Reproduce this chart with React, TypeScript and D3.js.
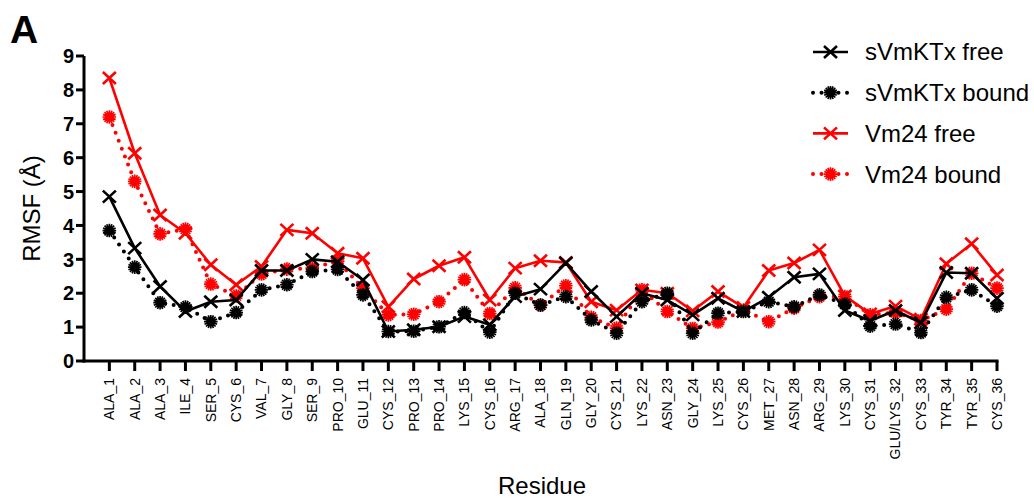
import * as d3 from "d3";

const residues = [
  "ALA_1", "ALA_2", "ALA_3", "ILE_4", "SER_5", "CYS_6", "VAL_7", "GLY_8", "SER_9",
  "PRO_10", "GLU_11", "CYS_12", "PRO_13", "PRO_14", "LYS_15", "CYS_16", "ARG_17", "ALA_18",
  "GLN_19", "GLY_20", "CYS_21", "LYS_22", "ASN_23", "GLY_24", "LYS_25", "CYS_26", "MET_27",
  "ASN_28", "ARG_29", "LYS_30", "CYS_31", "GLU/LYS_32", "CYS_33", "TYR_34", "TYR_35", "CYS_36",
];

const sVmKTxFree = [
  4.85, 3.33, 2.2, 1.46, 1.75, 1.8, 2.67, 2.67, 3.0, 2.93, 2.39, 0.87, 0.92, 1.01, 1.31, 1.07,
  1.9, 2.12, 2.89, 2.05, 1.31, 2.0, 1.8, 1.36, 1.85, 1.46, 1.88, 2.47, 2.57, 1.49, 1.19, 1.49,
  1.13, 2.61, 2.59, 1.85,
];
const sVmKTxBound = [
  3.85, 2.77, 1.72, 1.59, 1.16, 1.43, 2.1, 2.25, 2.64, 2.7, 1.95, 0.87, 0.88, 1.01, 1.43, 0.85,
  2.0, 1.65, 1.9, 1.21, 0.82, 1.75, 2.0, 0.82, 1.41, 1.46, 1.75, 1.6, 1.95, 1.68, 1.03, 1.09,
  0.84, 1.88, 2.1, 1.62,
];
const vm24Free = [
  8.35, 6.13, 4.31, 3.77, 2.84, 2.25, 2.79, 3.87, 3.77, 3.18, 3.03, 1.6, 2.42, 2.81, 3.06, 1.8,
  2.74, 2.96, 2.91, 1.75, 1.5, 2.1, 2.0, 1.48, 2.05, 1.58, 2.67, 2.89, 3.28, 1.92, 1.39, 1.62,
  1.23, 2.87, 3.46, 2.54,
];
const vm24Bound = [
  7.2, 5.3, 3.75, 3.89, 2.27, 1.92, 2.57, 2.71, 2.74, 2.95, 2.15, 1.36, 1.38, 1.75, 2.4, 1.4,
  2.16, 1.65, 2.22, 1.29, 0.97, 2.1, 1.46, 0.96, 1.15, 1.5, 1.16, 1.56, 1.9, 1.9, 1.36, 1.43,
  1.19, 1.53, 2.59, 2.15,
];
const yTicks = [0, 1, 2, 3, 4, 5, 6, 7, 8, 9];

const series = [
  { name: "Vm24 bound", values: vm24Bound, color: "#ff0000", bound: true },
  { name: "Vm24 free", values: vm24Free, color: "#ff0000", bound: false },
  { name: "sVmKTx bound", values: sVmKTxBound, color: "#000000", bound: true },
  { name: "sVmKTx free", values: sVmKTxFree, color: "#000000", bound: false },
];
const legendOrder = ["sVmKTx free", "sVmKTx bound", "Vm24 free", "Vm24 bound"];

const W = 1034;
const H = 498;
const left = 84;
const right = 997;
const bottom = 361;
const top = 56;
const font = "'Liberation Sans', Arial, Helvetica, sans-serif";

function Marker({ x, y, color, bound }: { x: number; y: number; color: string; bound: boolean }) {
  if (!bound) {
    return (
      <path
        d={`M${x - 6.5},${y - 6}L${x + 6.5},${y + 6}M${x - 6.5},${y + 6}L${x + 6.5},${y - 6}`}
        stroke={color}
        strokeWidth={2.6}
        fill="none"
      />
    );
  }
  // spiky asterisk: 8 spokes through the centre
  const arms = d3.range(8).map((k) => {
    const a = (k * Math.PI) / 8;
    const r = 6.8;
    return `M${x - r * Math.cos(a)},${y - r * Math.sin(a)}L${x + r * Math.cos(a)},${y + r * Math.sin(a)}`;
  });
  return (
    <g>
      <circle cx={x} cy={y} r={3} fill={color} />
      <path d={arms.join("")} stroke={color} strokeWidth={1.7} fill="none" />
    </g>
  );
}

export default function App() {
  const step = (right - left) / residues.length;
  const x = d3.scalePoint<string>().domain(residues).range([left + step, right]);
  const y = d3.scaleLinear().domain([0, 9]).range([bottom, top]);
  const line = d3
    .line<number>()
    .x((_, i) => x(residues[i]) as number)
    .y((d) => y(d));

  return (
    <svg
      width={W}
      height={H}
      viewBox={`0 0 ${W} ${H}`}
      style={{ position: "absolute", left: 0, top: 0, background: "#fff" }}
      fontFamily={font}
    >
      <text x={10} y={43} fontSize={39} fontWeight="bold">A</text>

      {/* series */}
      {series.map((s) => (
        <g key={s.name}>
          <path
            d={line(s.values) || ""}
            fill="none"
            stroke={s.color}
            strokeWidth={s.bound ? 4 : 2.6}
            strokeDasharray={s.bound ? "0 8.5" : undefined}
            strokeLinecap={s.bound ? "round" : "butt"}
            strokeLinejoin="round"
          />
          {s.values.map((v, i) => (
            <Marker key={i} x={x(residues[i]) as number} y={y(v)} color={s.color} bound={s.bound} />
          ))}
        </g>
      ))}

      {/* y axis */}
      <line x1={left} x2={left} y1={bottom + 1.5} y2={top} stroke="#000" strokeWidth={3} />
      {yTicks.map((t) => (
        <g key={t}>
          <line x1={left - 8} x2={left} y1={y(t)} y2={y(t)} stroke="#000" strokeWidth={3} />
          <text x={left - 10} y={y(t)} dy="0.36em" textAnchor="end" fontSize={20} fontWeight="bold">
            {t}
          </text>
        </g>
      ))}
      <text
        transform={`translate(40,${(top + bottom) / 2}) rotate(-90)`}
        textAnchor="middle"
        fontSize={24}
      >
        RMSF (Å)
      </text>

      {/* x axis */}
      <line x1={left - 1.5} x2={right + 1.5} y1={bottom} y2={bottom} stroke="#000" strokeWidth={3} />
      {residues.map((r) => (
        <g key={r} transform={`translate(${x(r)},0)`}>
          <line y1={bottom} y2={bottom + 10} stroke="#000" strokeWidth={3} />
          <text
            transform={`translate(0,${bottom + 17}) rotate(-90)`}
            dy="0.35em"
            textAnchor="end"
            fontSize={14}
          >
            {r}
          </text>
        </g>
      ))}
      <text x={542} y={494} textAnchor="middle" fontSize={24}>Residue</text>

      {/* legend */}
      {legendOrder.map((name, i) => {
        const s = series.find((d) => d.name === name)!;
        const cy = 52 + i * 40.7;
        return (
          <g key={name}>
            <line
              x1={813}
              x2={848}
              y1={cy}
              y2={cy}
              stroke={s.color}
              strokeWidth={s.bound ? 4 : 2.6}
              strokeDasharray={s.bound ? "0 8.5" : undefined}
              strokeLinecap={s.bound ? "round" : "butt"}
            />
            <Marker x={830.5} y={cy} color={s.color} bound={s.bound} />
            <text x={865} y={cy} dy="0.35em" fontSize={24}>{name}</text>
          </g>
        );
      })}
    </svg>
  );
}
